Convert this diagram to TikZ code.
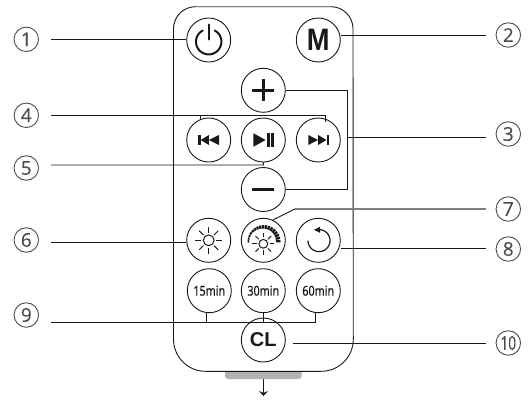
\documentclass[tikz,border=0pt]{standalone}
\usepackage{graphicx}
\usepackage{fontspec}
\setmainfont[FakeBold=0.35]{Noto Sans}
\newfontfamily\boldsans{Liberation Sans Bold}
\newfontfamily\numfont[FakeBold=0.3]{Open Sans}
\usetikzlibrary{arrows.meta,calc}
\definecolor{ink}{gray}{0.1}
\definecolor{numgray}{gray}{0.3}
\definecolor{tabgray}{gray}{0.70}
\tikzset{
  btn/.style={circle,draw=ink,fill=white,line width=0.9pt,minimum size=44pt,inner sep=0pt,text=ink},
  num/.style={circle,draw=numgray,line width=0.9pt,minimum size=24.5pt,inner sep=0pt,text=numgray,font=\fontsize{19}{19}\selectfont\numfont},
  wire/.style={draw=ink,line width=0.9pt},
  timer/.style={font=\fontsize{13.5}{13.5}\selectfont},
}
\newcommand{\tmin}[1]{\scalebox{0.8}[1]{#1}}
\begin{document}
\begin{tikzpicture}[x=1pt,y=-1pt]
\useasboundingbox (0,0) rectangle (528,402);
% body
\path[fill=tabgray,rounded corners=3pt] (225,368) rectangle (301.7,379);
\path[draw=ink,fill=white,line width=0.9pt]
  (196,6.7) -- (331,6.7) arc (-90:0:22) -- (353.3,339.3) arc (0:90:32) -- (205.5,371.3) arc (90:180:32) -- (173.5,28.7) arc (180:270:22) -- cycle;
\draw[draw=gray,line width=1.5pt] (196,6.7) -- (331,6.7);
% buttons
\node[btn] (pwr) at (208.7,40) {};
\node[btn,font=\fontsize{31}{31}\selectfont\boldsans] (mode) at (318.3,40) {\scalebox{0.88}[1]{M}};
\node[btn] (plus) at (263.3,90.3) {};
\node[btn] (prev) at (208.7,140) {};
\node[btn] (play) at (263.3,140) {};
\node[btn] (next) at (318.3,140) {};
\node[btn] (minus) at (263.3,189.5) {};
\node[btn] (sun) at (208.7,240.3) {};
\node[btn] (dial) at (263.3,240.3) {};
\node[btn] (loop) at (318.3,240.3) {};
\node[btn,timer] (m15) at (209.3,290.7) {\tmin{15min}};
\node[btn,timer] (m30) at (263.3,290.7) {\tmin{30min}};
\node[btn,timer] (m60) at (318.3,290.7) {\tmin{60min}};
\node[btn,font=\fontsize{20}{20}\selectfont\boldsans] (cl) at (263.3,340) {CL};
% number badges
\node[num] (n1) at (26.3,39.3) {1};
\node[num] (n4) at (26.3,115.3) {4};
\node[num] (n5) at (26.3,168) {5};
\node[num] (n6) at (26.3,240) {6};
\node[num] (n9) at (26.3,315) {9};
\node[num] (n2) at (508.3,35) {2};
\node[num] (n3) at (508.3,134) {3};
\node[num] (n7) at (508.3,209) {7};
\node[num] (n8) at (508.3,249) {8};
\node[num] (n10) at (508.3,343) {\scalebox{0.72}[1]{10}};
% free ends
\coordinate (e1) at (51,39.5);
\coordinate (e2) at (485.7,35);
\coordinate (e3) at (485.7,137);
\coordinate (e4) at (51,115.5);
\coordinate (e5) at (51,165);
\coordinate (e6) at (51,242);
\coordinate (e7) at (485.7,209);
\coordinate (e8) at (485.7,248);
\coordinate (e9) at (51,322.5);
\coordinate (e10) at (485.7,343.3);
\coordinate (bus3) at (347.5,137);
\coordinate (k7) at (295,209);
\coordinate (s10) at (293.3,343.3);
\coordinate (tab) at (263.5,379);
\coordinate (tabend) at (263.5,396);
% connectors
\draw[wire] (e1) -- (e1 -| pwr.west);
\draw[wire] (e2) -- (e2 -| mode.east);
\draw[wire] (plus.east) -| (bus3) |- (minus.east);
\draw[wire] (bus3) -- (e3);
\draw[wire] (e4) -- (325.7,115.5) -- (325.7,121.5);
\draw[wire] (200.7,115.5) -- (200.7,119.5);
\draw[wire] (e5) -- (263.5,165) -- (play.south);
\draw[wire] (e6) -- (e6 -| sun.west);
\draw[wire] (dial.65) -- (k7);
\draw[draw=gray,line width=1.4pt] (k7) -- (e7);
\draw[wire] (e8 -| loop.east) -- (e8);
\draw[wire] (e9) -- (315.7,322.5) -- (315.7,312);
\draw[wire] (206.5,322.5) -- (206.5,312.5);
\draw[wire] (m30.south) -- (263.3,322.5);
\draw[wire] (s10) -- (e10);
\draw[wire,-{Stealth[length=5pt,width=9pt,inset=2pt]}] (tab) -- (tabend);
% power glyph
\draw[ink,line width=2pt,line cap=round] ($(pwr.center)+(0,-15.5)$) -- ($(pwr.center)+(0,-0.5)$);
\draw[ink,line width=2pt,line cap=round] plot[domain=-62:242,samples=50,smooth] ({208.7+12.7*cos(\x)},{41.7+12.7*sin(\x)});
% plus minus
\draw[ink,line width=2.6pt] ($(plus.center)+(-11,0)$) -- ($(plus.center)+(11,0)$);
\draw[ink,line width=2.6pt] ($(plus.center)+(0,-11)$) -- ($(plus.center)+(0,11)$);
\draw[ink,line width=2.6pt] ($(minus.center)+(-11,0)$) -- ($(minus.center)+(11,0)$);
% prev
\begin{scope}[shift={(prev.center)}]
\fill[ink] (-10.3,-5) rectangle (-8.2,5);
\fill[ink] (-8,0) -- (0.2,-5) -- (0.2,5) -- cycle;
\fill[ink] (0.2,0) -- (10.3,-5) -- (10.3,5) -- cycle;
\end{scope}
% play
\begin{scope}[shift={(play.center)}]
\fill[ink] (-10,-6.8) -- (2.3,0) -- (-10,6.8) -- cycle;
\fill[ink] (4,-6.8) rectangle (6.4,6.8);
\fill[ink] (8,-6.8) rectangle (10.4,6.8);
\end{scope}
% next
\begin{scope}[shift={(next.center)}]
\fill[ink] (-10,-5) -- (-0.2,0) -- (-10,5) -- cycle;
\fill[ink] (-0.2,-5) -- (8.2,0) -- (-0.2,5) -- cycle;
\fill[ink] (8.2,-5) rectangle (10.3,5);
\end{scope}
% sun
\begin{scope}[shift={(sun.center)}]
\draw[ink,line width=1pt] (0,0) circle (5.4);
\foreach \a in {0,45,...,315} \draw[ink,line width=1pt] ({7.5*cos(\a)},{7.5*sin(\a)}) -- ({13.5*cos(\a)},{13.5*sin(\a)});
\end{scope}
% dial
\begin{scope}[shift={(dial.center)}]
\draw[ink,line width=1pt] (0,3.5) circle (4.4);
\foreach \a in {0,45,...,315} \draw[ink,line width=1pt] ({6.5*cos(\a)},{3.5+6.5*sin(\a)}) -- ({11*cos(\a)},{3.5+11*sin(\a)});
\foreach \a/\w in {183/1.4,172/1.6,161/1.8,150/2,139/2.3,128/2.6,117/2.9,106/3.2,95/3.4,84/3.6,73/3.8,62/4,51/4.1,40/4.2,29/4.3,18/4.4,7/4.5}
  \draw[ink,line width=\w pt] ({15*cos(\a)},{1.5-15*sin(\a)}) -- ({15*cos(\a-9)},{1.5-15*sin(\a-9)});
\end{scope}
% loop
\begin{scope}[shift={(loop.center)}]
\draw[ink,line width=1.2pt,line cap=round] plot[domain=-85:178,samples=50,smooth] ({0.7+11*cos(\x)},{0.3+11*sin(\x)});
\fill[ink] (-4.3,-10.5) -- (1.7,-13.5) -- (1.7,-7.5) -- cycle;
\end{scope}
\end{tikzpicture}
\end{document}
